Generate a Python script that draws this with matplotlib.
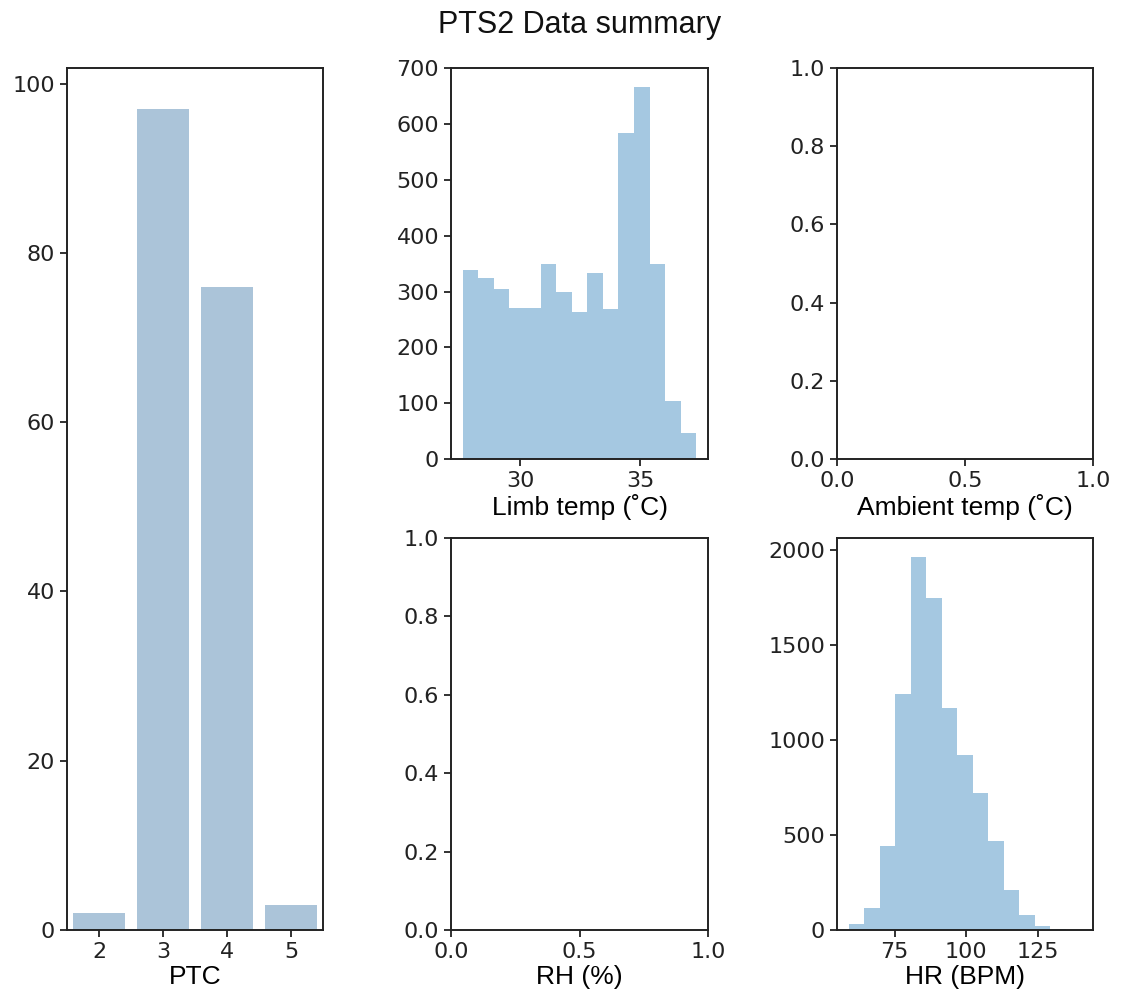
import matplotlib
matplotlib.use("Agg")
import matplotlib.pyplot as plt
import numpy as np

# ---- data ----
ptc_categories = ["2", "3", "4", "5"]
ptc_counts = [2, 97, 76, 3]

limb_bin_start = 27.62
limb_bin_width = 0.647
limb_counts = [338, 325, 304, 270, 270, 349, 300, 263, 334, 269, 584, 667, 349, 104, 47]

hr_bin_start = 58.9
hr_bin_width = 5.43
hr_counts = [32, 116, 443, 1244, 1965, 1750, 1169, 923, 721, 471, 213, 77, 23, 7, 2]

limb_xticks = [30, 35]
hr_xticks = [75, 100, 125]

# ---- style ----
W, H = 1121, 1005
TICK_FS = 16
LABEL_FS = 19
LABEL_FONT = ["Liberation Sans", "DejaVu Sans"]
TICK_FONT = ["DejaVu Sans"]
BAR_COLOR = "#abc4d9"
HIST_COLOR = "#a5c8e1"

plt.rcParams["font.family"] = TICK_FONT
plt.rcParams["axes.linewidth"] = 1.4
plt.rcParams["xtick.major.width"] = 1.3
plt.rcParams["ytick.major.width"] = 1.3
plt.rcParams["xtick.major.size"] = 5
plt.rcParams["ytick.major.size"] = 5
plt.rcParams["xtick.labelsize"] = TICK_FS
plt.rcParams["ytick.labelsize"] = TICK_FS
plt.rcParams["axes.edgecolor"] = "#222222"

fig = plt.figure(figsize=(W / 100, H / 100), dpi=100)


def px_axes(x0, x1, ytop, ybot):
    return fig.add_axes([x0 / W, 1 - ybot / H, (x1 - x0) / W, (ybot - ytop) / H])


ax_ptc = px_axes(67, 323, 68, 930)
ax_limb = px_axes(451, 708, 68, 459)
ax_amb = px_axes(837, 1093, 68, 459)
ax_rh = px_axes(451, 708, 538, 930)
ax_hr = px_axes(837, 1093, 538, 930)

# PTC count bars
xpos = np.arange(len(ptc_categories))
ax_ptc.bar(xpos, ptc_counts, width=0.8, color=BAR_COLOR)
ax_ptc.set_xticks(xpos)
ax_ptc.set_xticklabels(ptc_categories)
ax_ptc.set_xlim(-0.5, len(ptc_categories) - 0.5)
ax_ptc.set_ylim(0, max(ptc_counts) * 1.05)
ax_ptc.set_yticks([0, 20, 40, 60, 80, 100])
ax_ptc.set_xlabel("PTC", fontsize=LABEL_FS, family=LABEL_FONT)

# Limb temp histogram
limb_edges = limb_bin_start + limb_bin_width * np.arange(len(limb_counts) + 1)
ax_limb.hist(limb_edges[:-1], bins=limb_edges, weights=limb_counts,
             color=HIST_COLOR, edgecolor="none")
ax_limb.set_xticks(limb_xticks)
ax_limb.set_yticks(range(0, 701, 100))
ax_limb.set_ylim(0, max(limb_counts) * 1.05)
ax_limb.set_xlabel("Limb temp (˚C)", fontsize=LABEL_FS, family=LABEL_FONT)

# Ambient temp (empty)
ax_amb.set_xlim(0, 1)
ax_amb.set_ylim(0, 1)
ax_amb.set_xticks([0, 0.5, 1.0])
ax_amb.set_yticks([0, 0.2, 0.4, 0.6, 0.8, 1.0])
ax_amb.set_xlabel("Ambient temp (˚C)", fontsize=LABEL_FS, family=LABEL_FONT)

# RH (empty)
ax_rh.set_xlim(0, 1)
ax_rh.set_ylim(0, 1)
ax_rh.set_xticks([0, 0.5, 1.0])
ax_rh.set_yticks([0, 0.2, 0.4, 0.6, 0.8, 1.0])
ax_rh.set_xlabel("RH (%)", fontsize=LABEL_FS, family=LABEL_FONT)

# HR histogram
hr_edges = hr_bin_start + hr_bin_width * np.arange(len(hr_counts) + 1)
ax_hr.hist(hr_edges[:-1], bins=hr_edges, weights=hr_counts,
           color=HIST_COLOR, edgecolor="none")
ax_hr.set_xticks(hr_xticks)
ax_hr.set_yticks([0, 500, 1000, 1500, 2000])
ax_hr.set_ylim(0, max(hr_counts) * 1.05)
ax_hr.set_xlabel("HR (BPM)", fontsize=LABEL_FS, family=LABEL_FONT)

for ax in [ax_ptc, ax_limb, ax_amb, ax_rh, ax_hr]:
    ax.tick_params(colors="#222222", labelcolor="#222222")
    ax.xaxis.labelpad = 2

fig.text(580 / W, 1 - 25 / H, "PTS2 Data summary", ha="center", va="center",
         fontsize=22, family=LABEL_FONT, color="#111111")

fig.savefig("out.png", dpi=100)
